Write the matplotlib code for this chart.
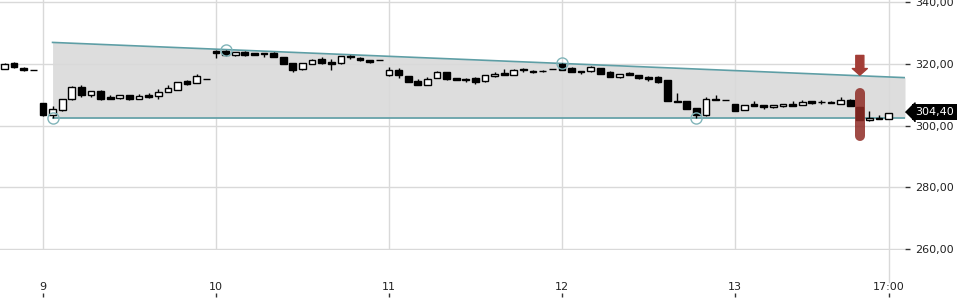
import matplotlib
matplotlib.use("Agg")
import matplotlib.pyplot as plt
import matplotlib.transforms as mtransforms
import numpy as np

# 30-min candles, index 0 = day 9 09:00, 18 candles per trading day
candle_idx = np.arange(-4, 89)
opens = [318.4, 320.3, 318.6, 317.9,
         307.3, 303.5, 304.9, 308.6, 312.4, 310.0, 311.1, 309.3, 308.8, 309.8, 308.6, 310.0, 309.45, 310.85, 311.6, 314.3, 313.8, 315.0,
         324.0, 324.0, 322.7, 323.9, 323.4, 323.5, 323.6, 322.1, 320.2, 318.2, 319.9, 321.5, 320.6, 320.1, 322.6, 322.0, 321.2, 321.2,
         316.25, 318.1, 315.9, 314.5, 313.1, 315.4, 317.3, 315.4, 315.2, 315.5, 314.3, 315.9, 316.9, 316.35, 318.3, 317.75, 317.8, 318.3,
         319.8, 318.5, 317.75, 317.5, 318.6, 317.4, 315.7, 316.9, 316.35, 315.6, 315.6, 314.85, 308.0, 308.0, 305.7, 303.3, 308.7, 308.2,
         307.0, 305.1, 306.9, 306.6, 305.9, 306.2, 307.1, 306.75, 308.0, 307.6, 307.7, 307.1, 308.4, 306.0, 301.7, 302.5, 302.1]
highs = [320.1, 320.6, 318.8, 317.9,
         307.3, 306.2, 308.7, 312.9, 313.1, 311.2, 311.6, 310.0, 309.9, 310.0, 310.3, 310.5, 311.9, 313.2, 314.2, 314.8, 316.7, 315.0,
         324.35, 324.6, 323.9, 324.0, 323.5, 323.6, 323.7, 322.2, 320.2, 320.4, 321.65, 322.2, 321.4, 322.5, 322.9, 322.2, 321.3, 321.2,
         318.8, 318.6, 316.0, 314.95, 315.6, 317.8, 317.4, 315.5, 315.3, 315.6, 316.4, 317.4, 318.4, 318.2, 318.6, 318.0, 318.1, 318.3,
         320.3, 319.0, 317.8, 319.3, 318.7, 317.5, 316.7, 317.4, 316.4, 316.1, 316.1, 314.9, 310.5, 308.1, 305.8, 309.1, 309.8, 308.2,
         307.1, 306.6, 308.0, 306.7, 306.7, 307.1, 307.8, 308.15, 308.1, 308.3, 307.8, 309.3, 308.5, 306.1, 304.6, 303.5, 303.9]
lows = [318.3, 318.7, 317.5, 317.9,
        303.2, 302.6, 304.8, 308.3, 309.3, 309.4, 308.4, 308.5, 308.7, 308.4, 308.5, 308.9, 308.6, 310.8, 311.5, 313.1, 313.7, 315.0,
        321.9, 322.6, 322.6, 322.6, 322.8, 322.2, 322.2, 320.0, 317.2, 318.1, 319.8, 320.0, 318.1, 320.0, 321.65, 321.0, 320.35, 321.2,
        316.2, 315.4, 314.2, 313.0, 313.0, 315.3, 314.9, 314.6, 314.0, 313.3, 314.2, 315.8, 316.35, 316.3, 317.4, 317.1, 317.4, 318.3,
        318.0, 317.3, 316.8, 317.4, 316.8, 315.8, 315.3, 316.5, 315.1, 314.5, 313.9, 308.0, 307.5, 305.4, 302.5, 303.2, 308.3, 308.2,
        304.6, 305.0, 306.3, 305.5, 305.8, 306.1, 306.4, 306.7, 307.1, 307.0, 307.2, 307.0, 306.2, 301.7, 301.6, 302.2, 302.0]
closes = [320.0, 318.8, 318.0, 317.9,
          303.3, 305.3, 308.6, 312.5, 309.9, 311.1, 308.5, 308.5, 309.8, 308.5, 309.5, 309.3, 310.85, 312.15, 314.1, 313.5, 316.1, 315.0,
          323.6, 322.7, 323.8, 322.7, 322.9, 323.3, 322.2, 320.0, 317.9, 320.35, 321.1, 320.1, 320.0, 322.4, 322.2, 321.1, 320.6, 321.2,
          317.9, 316.25, 314.2, 313.0, 315.05, 317.3, 314.95, 314.7, 314.7, 314.1, 316.35, 316.8, 316.4, 318.1, 317.9, 317.35, 317.6, 318.3,
          318.1, 317.4, 317.35, 318.95, 316.8, 315.8, 316.6, 316.5, 315.4, 314.95, 314.2, 308.0, 307.5, 305.45, 303.3, 308.6, 308.3, 308.2,
          304.8, 306.5, 306.3, 306.0, 306.6, 307.0, 306.4, 307.7, 307.4, 307.6, 307.3, 308.15, 306.2, 301.8, 302.5, 302.2, 303.9]

# x axis labels
day_ticks = [0, 18, 36, 54, 72]
day_labels = ["9", "10", "11", "12", "13"]
now_tick = 88
now_label = "17:00"
price_ticks = [260, 280, 300, 320, 340]

# trend channel pivots (circled points)
top_pivot_x = [19, 54]
top_pivot_y = [324.6, 320.1]
bottom_pivot_x = [1, 68]
bottom_pivot_y = [302.4, 302.4]

# signal marker and last price
signal_idx = 85
last_price = 304.40

x_min, x_max = -4.47, 89.7
y_min, y_max = 259.7, 340.65

grid_col = "#d9d9d9"
teal = "#5e9ea5"
red = "#a33d36"
txt = "#222222"

fig = plt.figure(figsize=(9.6, 3.0), dpi=100, facecolor="white")
ax = fig.add_axes([0, 1 - 250 / 300, 905 / 960, 250 / 300])
ax.set_xlim(x_min, x_max)
ax.set_ylim(y_min, y_max)

# channel
up = np.polyfit(top_pivot_x, top_pivot_y, 1)
lo = np.polyfit(bottom_pivot_x, bottom_pivot_y, 1)
cx = np.array([bottom_pivot_x[0], x_max])
ax.fill_between(cx, np.polyval(lo, cx), np.polyval(up, cx), color="#dddddd", lw=0, zorder=1)
ax.plot(cx, np.polyval(up, cx), color=teal, lw=1.2, zorder=2)
ax.plot(cx, np.polyval(lo, cx), color=teal, lw=1.2, zorder=2)
ax.plot(top_pivot_x + bottom_pivot_x, top_pivot_y + bottom_pivot_y, ls="none", marker="o",
        ms=8, mfc="none", mec="#80b4b9", mew=1, zorder=4)

# candles
o = np.array(opens)
c = np.array(closes)
rising = c >= o
ax.vlines(candle_idx, lows, highs, color="black", lw=1, zorder=3)
ax.bar(candle_idx, np.abs(c - o), bottom=np.minimum(o, c), width=0.7,
       color=np.where(rising, "white", "black"), edgecolor="black", linewidth=1, zorder=3)

# signal highlight
ax.plot([signal_idx, signal_idx], [310.5, 296.6], color="#8f2b25", alpha=0.85, lw=7.2,
        solid_capstyle="round", zorder=5)
ax.annotate("", xy=(signal_idx, 316.3), xytext=(signal_idx, 322.7),
            arrowprops=dict(arrowstyle="simple,head_length=4.8,head_width=10.8,tail_width=5.8",
                            color=red, shrinkA=0, shrinkB=0, mutation_scale=1), zorder=5)

# grid
ax.set_xticks(day_ticks + [now_tick])
ax.set_xticklabels(day_labels + [now_label])
ax.set_yticks(price_ticks)
ax.set_yticklabels([f"{v:.2f}".replace(".", ",") for v in price_ticks])
ax.grid(True, color=grid_col, lw=1)
ax.set_axisbelow("line")
ax.axvline(now_tick, ymin=-0.128, ymax=0, color=grid_col, lw=1, clip_on=False)

for s in ax.spines.values():
    s.set_visible(False)
ax.spines["bottom"].set_position(("outward", 47 * 0.72))
ax.yaxis.tick_right()
ax.tick_params(axis="y", direction="out", length=3.6, width=1, color="#333333",
               pad=3.6, labelsize=8, labelcolor=txt)
ax.tick_params(axis="x", direction="in", length=3, width=1, color="#333333",
               pad=-10.5, labelsize=8, labelcolor=txt)

# last price tag
tr = mtransforms.blended_transform_factory(ax.transAxes, ax.transData)
ax.plot([1.0], [last_price], transform=tr, marker=[(0, 0), (1, 1), (1, -1)], ms=13.7,
        color="black", clip_on=False, zorder=6)
ax.annotate(f"{last_price:.2f}".replace(".", ","), xy=(1.0, last_price), xycoords=tr,
            xytext=(10 * 0.72, 0), textcoords="offset points", ha="left", va="center",
            color="white", fontsize=8, annotation_clip=False, zorder=6,
            bbox=dict(boxstyle="square,pad=0.3", fc="black", ec="none"))

fig.savefig("out.png", dpi=100, facecolor="white")
